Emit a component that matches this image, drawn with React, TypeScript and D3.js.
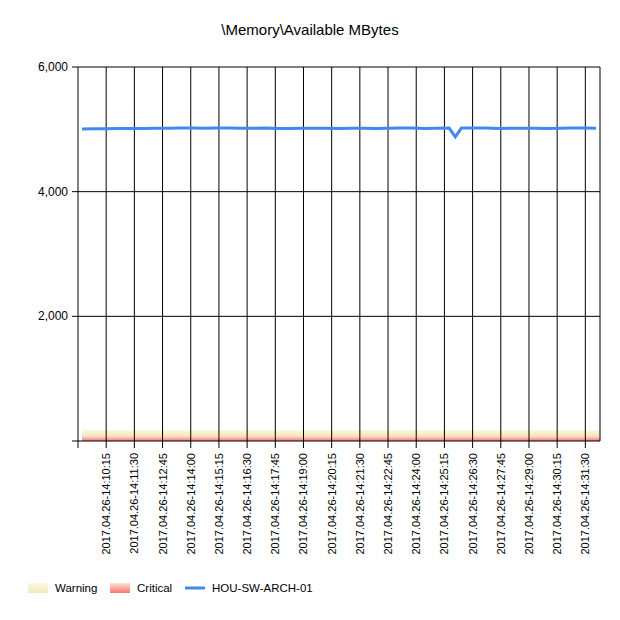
import { scaleLinear, line } from "d3";

const tickLabels = ["10:15","11:30","12:45","14:00","15:15","16:30","17:45","19:00","20:15","21:30","22:45","24:00","25:15","26:30","27:45","29:00","30:15","31:30"].map((t) => "2017.04.26-14:" + t);
const yTicks = [0, 2000, 4000, 6000];
const series = [5005,5008,5010,5012,5015,5015,5018,5018,5020,5020,5018,5020,5020,5018,5018,5020,5012,5015,5018,5018,5018,5015,5018,5018,5015,5018,5020,5020,5015,5018,5020,5020,5020,5020,5015,5018,5018,5018,5015,5018,5020,5020,5018];
const dip = { at: 30.5, value: 4880 };
const warning = 180;
const critical = 80;

export default function App() {
  const x = scaleLinear().domain([-1, 17.52]).range([78, 600]);
  const y = scaleLinear().domain([0, 6000]).range([441, 67]);
  const step = 18.24 / (series.length - 1);
  const pts: [number, number][] = series.map((v, i) => [-0.86 + i * step, v]);
  pts.splice(Math.floor(dip.at) + 1, 0, [-0.86 + dip.at * step, dip.value]);
  const path = line<[number, number]>().x((d) => x(d[0])).y((d) => y(d[1]))(pts);
  const font = "Liberation Sans, Arial, sans-serif";
  return (
    <svg width={620} height={620} style={{ position: "absolute", left: 0, top: 0, background: "#fff" }} fontFamily={font}>
      <defs>
        <linearGradient id="warn" x1="0" y1="0" x2="0" y2="1">
          <stop offset="0" stopColor="#fcf8e4" />
          <stop offset="1" stopColor="#f1e8b8" />
        </linearGradient>
        <linearGradient id="crit" x1="0" y1="0" x2="0" y2="1">
          <stop offset="0" stopColor="#fde0d6" />
          <stop offset="1" stopColor="#f5786a" />
        </linearGradient>
      </defs>
      <text x={310} y={35} textAnchor="middle" fontSize={15}>\Memory\Available MBytes</text>
      <rect x={x(-1) + 4} y={y(warning)} width={x(17.52) - x(-1) - 4} height={y(critical) - y(warning)} fill="url(#warn)" />
      <rect x={x(-1) + 4} y={y(critical)} width={x(17.52) - x(-1) - 4} height={y(0) - y(critical)} fill="url(#crit)" />
      {yTicks.map((t) => (
        <g key={t}>
          <line x1={72} x2={600} y1={y(t)} y2={y(t)} stroke="#000" />
          {t > 0 && <text x={68} y={y(t) + 4} textAnchor="end" fontSize={12}>{t.toLocaleString("en-US")}</text>}
        </g>
      ))}
      {tickLabels.map((l, i) => (
        <g key={l}>
          <line x1={x(i)} x2={x(i)} y1={67} y2={448} stroke="#000" />
          <text transform={`translate(${x(i) + 4},453) rotate(-90)`} textAnchor="end" fontSize={11}>{l}</text>
        </g>
      ))}
      <line x1={78} x2={78} y1={67} y2={448} stroke="#000" />
      <line x1={600} x2={600} y1={67} y2={441} stroke="#000" />
      <path d={path ?? ""} fill="none" stroke="#4189ee" strokeWidth={3} />
      <g fontSize={11.5}>
        <rect x={28} y={583} width={20} height={10} fill="url(#warn)" />
        <text x={55} y={592}>Warning</text>
        <rect x={110} y={583} width={20} height={10} fill="url(#crit)" />
        <text x={137} y={592}>Critical</text>
        <line x1={185} x2={205} y1={588} y2={588} stroke="#4189ee" strokeWidth={3} />
        <text x={212} y={592}>HOU-SW-ARCH-01</text>
      </g>
    </svg>
  );
}
